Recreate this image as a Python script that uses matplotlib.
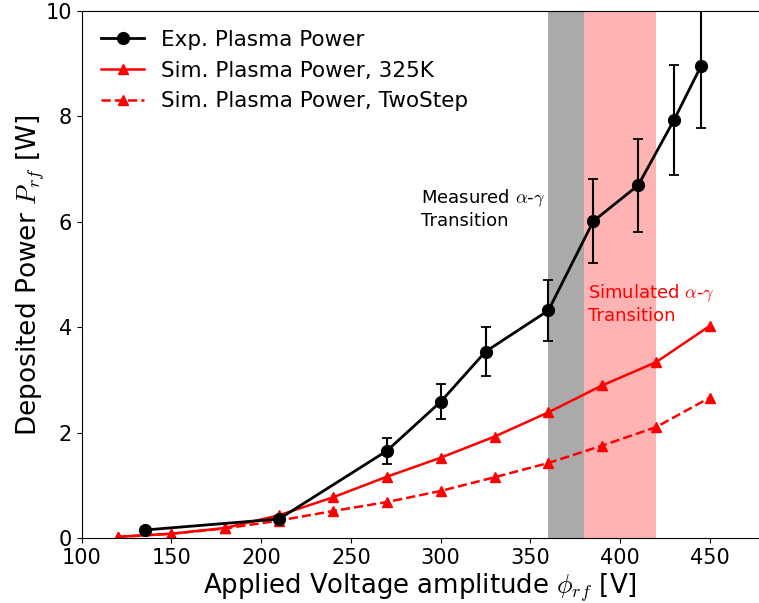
import numpy as np
import matplotlib
matplotlib.use("Agg")
import matplotlib.pyplot as plt

plt.rcParams['mathtext.fontset'] = 'cm'

# experimental data
exp_voltage = [135, 210, 270, 300, 325, 360, 385, 410, 430, 445]
exp_power = [0.16, 0.37, 1.66, 2.59, 3.54, 4.32, 6.01, 6.69, 7.93, 8.95]
exp_err = [0.03, 0.05, 0.25, 0.33, 0.47, 0.58, 0.80, 0.88, 1.04, 1.17]

# simulations
sim_voltage = [120, 150, 180, 210, 240, 270, 300, 330, 360, 390, 420, 450]
sim_325k = [0.03, 0.09, 0.20, 0.44, 0.78, 1.17, 1.53, 1.93, 2.39, 2.90, 3.34, 4.03]
sim_twostep = [0.03, 0.09, 0.19, 0.34, 0.52, 0.69, 0.90, 1.16, 1.43, 1.76, 2.11, 2.67]

measured_band = (360, 380)
simulated_band = (380, 420)

fig = plt.figure(figsize=(7.59, 6.03), dpi=100)
ax = fig.add_axes([0.1076, 0.107, 0.8924, 0.8755])

ax.axvspan(*measured_band, color='#aaaaaa', lw=0, zorder=0)
ax.axvspan(*simulated_band, color='#ffb3b3', lw=0, zorder=0)

l2, = ax.plot(sim_voltage, sim_325k, color='r', marker='^', ms=7.5, lw=1.8,
              label='Sim. Plasma Power, 325K')
l3, = ax.plot(sim_voltage, sim_twostep, color='r', marker='^', ms=7.5, lw=1.8,
              ls='--', label='Sim. Plasma Power, TwoStep')
ax.errorbar(exp_voltage, exp_power, yerr=exp_err, fmt='none', ecolor='k',
            elinewidth=1.5, capsize=3.5, capthick=1.3)
l1, = ax.plot(exp_voltage, exp_power, color='k', marker='o', ms=8.5, lw=2,
              label='Exp. Plasma Power')

ax.text(289, 6.65, 'Measured $\\alpha$-$\\gamma$\nTransition', fontsize=13,
        va='top', ha='left', color='k')
ax.text(382, 4.85, 'Simulated $\\alpha$-$\\gamma$\nTransition', fontsize=13,
        va='top', ha='left', color='r')

ax.set_xlim(100, 477.3)
ax.set_ylim(0, 10)
ax.set_xticks([100, 150, 200, 250, 300, 350, 400, 450])
ax.set_yticks([0, 2, 4, 6, 8, 10])
ax.tick_params(labelsize=15)
ax.spines['right'].set_visible(False)

ax.set_xlabel('Applied Voltage amplitude $\\phi_{rf}$ [V]', fontsize=18.7,
              labelpad=2)
ax.set_ylabel('Deposited Power $P_{rf}$ [W]', fontsize=19, labelpad=-1)

ax.legend(handles=[l1, l2, l3], loc='upper left', frameon=False, fontsize=15.5)

fig.savefig('out.png', dpi=100)
